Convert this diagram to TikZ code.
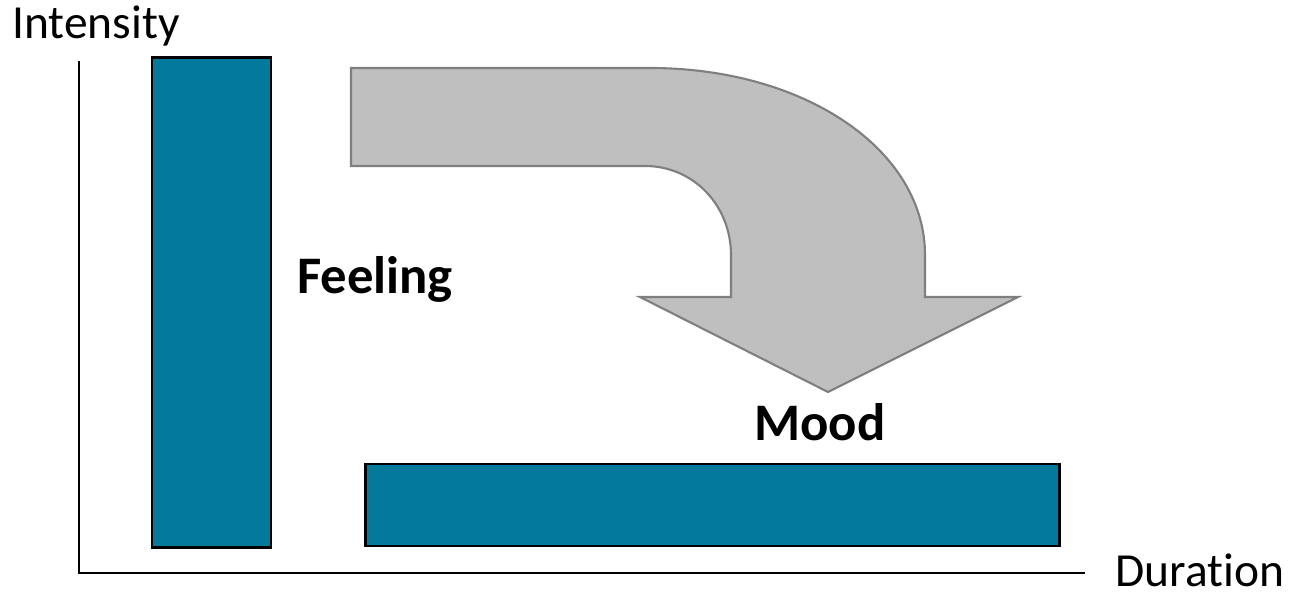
\documentclass[tikz,border=0pt]{standalone}
\usepackage{fontspec}
\setmainfont{Carlito}[Ligatures=NoCommon]
\usepackage{xcolor}
\usetikzlibrary{positioning}
\definecolor{BarTeal}{HTML}{03799B}
\definecolor{ArrowFill}{HTML}{BFBFBF}
\definecolor{ArrowEdge}{HTML}{7F7F7F}

\begin{document}
\begin{tikzpicture}[x=0.01cm, y=-0.01cm,
  bar/.style={rectangle, draw=black, fill=BarTeal, line width=0.8pt, inner sep=0pt},
  axis/.style={line width=0.7pt, black},
  lbl/.style={font=\fontsize{13.5}{16}\selectfont, anchor=base},
  tag/.style={font=\fontsize{15}{18}\selectfont\bfseries, anchor=base}
]
\useasboundingbox (0,0) rectangle (1290,594);
% axes
\coordinate (top) at (79,61);
\coordinate (origin) at (79,573);
\coordinate (right) at (1085,573);
\draw[axis] (top) -- (origin) -- (right);
\node[lbl] (intensity) at (96,38) {Intensity};
\node[lbl] (duration) at (1200,586) {Duration};
% bars
\node[bar, minimum width=1.19cm, minimum height=4.89cm] (feelbar) at (211.5,302.5) {};
\node[bar, minimum width=6.93cm, minimum height=0.82cm] (moodbar) at (712.5,505) {};
% bent arrow
\draw[fill=ArrowFill, draw=ArrowEdge, line width=0.6pt, line join=miter]
  (351,68) -- (650,68) .. controls (805,68) and (925,150) .. (925,255)
  -- (925,297) -- (1018,297) -- (828,392) -- (640,297) -- (731,297) -- (731,255)
  .. controls (731,206) and (694,166) .. (645,166) -- (351,166) -- cycle;
\node[tag] (feeling) at (375,293) {Feeling};
\node[tag] (mood) at (820,440) {Mood};
\end{tikzpicture}
\end{document}
